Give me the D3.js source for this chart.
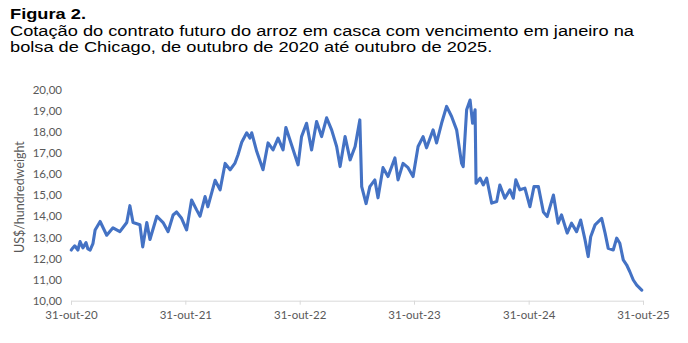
<!DOCTYPE html>
<html>
<head>
<meta charset="utf-8">
<script src="https://cdn.jsdelivr.net/npm/d3@7"></script>
<style>
  body { margin: 0; background: #fff; }
  svg { display: block; }
</style>
</head>
<body>
<div id="chart"></div>
<script>
// title lines
const titleBold = "Figura 2.";
const titleLines = [
  "Cotação do contrato futuro do arroz em casca com vencimento em janeiro na",
  "bolsa de Chicago, de outubro de 2020 até outubro de 2025."
];
const yLabel = "US$/hundredweight";

// x ticks (dates) and their labels
const tickDates = ["2020-10-31", "2021-10-31", "2022-10-31", "2023-10-31", "2024-10-31", "2025-10-31"];
const tickLabels = ["31-out-20", "31-out-21", "31-out-22", "31-out-23", "31-out-24", "31-out-25"];
const yTicks = [10, 11, 12, 13, 14, 15, 16, 17, 18, 19, 20];

// series
const dates = [
  "2020-11-01", "2020-11-03", "2020-11-12", "2020-11-22", "2020-11-29", "2020-12-08", "2020-12-18", "2020-12-24",
  "2020-12-31", "2021-01-09", "2021-01-16", "2021-02-01", "2021-02-22", "2021-03-14", "2021-04-05", "2021-04-27",
  "2021-05-07", "2021-05-17", "2021-06-08", "2021-06-17", "2021-06-30", "2021-07-10", "2021-08-01", "2021-08-21",
  "2021-09-06", "2021-09-22", "2021-10-03", "2021-10-19", "2021-11-04", "2021-11-20", "2021-12-06", "2021-12-17",
  "2022-01-02", "2022-01-11", "2022-02-03", "2022-02-19", "2022-03-07", "2022-03-23", "2022-04-07", "2022-04-17",
  "2022-04-29", "2022-05-15", "2022-05-25", "2022-05-31", "2022-06-16", "2022-07-06", "2022-07-22", "2022-08-07",
  "2022-08-23", "2022-09-08", "2022-09-17", "2022-10-05", "2022-10-26", "2022-11-06", "2022-11-22", "2022-12-08",
  "2022-12-24", "2023-01-09", "2023-01-25", "2023-02-10", "2023-02-26", "2023-03-09", "2023-03-25", "2023-04-10",
  "2023-04-26", "2023-05-11", "2023-05-17", "2023-05-31", "2023-06-12", "2023-06-28", "2023-07-08", "2023-07-24",
  "2023-08-09", "2023-08-31", "2023-09-10", "2023-09-26", "2023-10-12", "2023-10-28", "2023-11-13", "2023-11-29",
  "2023-12-10", "2023-12-31", "2024-01-11", "2024-01-27", "2024-02-12", "2024-02-28", "2024-03-15", "2024-03-31",
  "2024-04-05", "2024-04-16", "2024-04-27", "2024-05-05", "2024-05-13", "2024-05-16", "2024-05-29", "2024-06-08",
  "2024-06-19", "2024-07-05", "2024-07-21", "2024-07-31", "2024-08-16", "2024-09-01", "2024-09-12", "2024-09-20",
  "2024-10-03", "2024-10-19", "2024-11-04", "2024-11-17", "2024-12-01", "2024-12-17", "2024-12-29", "2025-01-18",
  "2025-02-02", "2025-02-13", "2025-03-03", "2025-03-17", "2025-04-02", "2025-04-15", "2025-04-29", "2025-05-09",
  "2025-05-17", "2025-05-31", "2025-06-21", "2025-07-02", "2025-07-12", "2025-07-28", "2025-08-08", "2025-08-18",
  "2025-08-29", "2025-09-09", "2025-09-19", "2025-09-30", "2025-10-11", "2025-10-27"
];
const prices = [
  12.40, 12.45, 12.60, 12.40, 12.80, 12.50, 12.75, 12.45,
  12.40, 12.70, 13.35, 13.75, 13.10, 13.45, 13.27, 13.70,
  14.50, 13.70, 13.60, 12.55, 13.70, 12.90, 14.00, 13.70,
  13.27, 14.06, 14.20, 13.90, 13.35, 14.77, 14.30, 14.00,
  14.93, 14.45, 15.70, 15.25, 16.50, 16.20, 16.50, 16.90,
  17.50, 17.95, 17.70, 17.95, 17.06, 16.20, 17.47, 17.14,
  17.70, 17.14, 18.20, 17.38, 16.43, 17.77, 18.40, 17.14,
  18.48, 17.77, 18.66, 18.09, 17.30, 16.35, 17.77, 16.67,
  17.30, 18.56, 15.40, 14.60, 15.40, 15.72, 14.87, 16.30,
  15.88, 16.76, 15.72, 16.50, 16.30, 15.88, 17.30, 17.77,
  17.24, 18.09, 17.47, 18.40, 19.20, 18.72, 18.09, 16.50,
  16.35, 19.04, 19.50, 18.40, 19.04, 15.56, 15.80, 15.48,
  15.80, 14.62, 14.70, 15.48, 14.85, 15.25, 14.85, 15.72,
  15.25, 15.33, 14.45, 15.40, 15.40, 14.20, 13.98, 15.00,
  13.67, 14.06, 13.20, 13.67, 13.27, 13.82, 12.88, 12.09,
  13.03, 13.59, 13.90, 13.20, 12.48, 12.40, 12.96, 12.72,
  11.93, 11.69, 11.37, 10.98, 10.74, 10.50
];

const width = 688, height = 343;
const margin = { top: 89.5, right: 45, bottom: 42.3, left: 71 };

const parse = d3.timeParse("%Y-%m-%d");
const data = dates.map((d, i) => ({ date: parse(d), value: prices[i] }));

const svg = d3.select("#chart").append("svg")
  .attr("width", width)
  .attr("height", height);

// title block (source text is drawn wide, so stretch it horizontally)
const title = svg.append("g")
  .attr("transform", "translate(10,0) scale(1.215,1)")
  .attr("font-family", "'Liberation Sans', Arial, sans-serif")
  .attr("fill", "#000");
title.append("text")
  .attr("x", 0).attr("y", 19)
  .attr("font-size", 15).attr("font-weight", "bold")
  .text(titleBold);
title.selectAll("text.line")
  .data(titleLines)
  .join("text")
  .attr("class", "line")
  .attr("x", 0)
  .attr("y", (d, i) => 36 + i * 16.5)
  .attr("font-size", 15)
  .text(d => d);

const x = d3.scaleTime()
  .domain([parse(tickDates[0]), parse(tickDates[tickDates.length - 1])])
  .range([margin.left, width - margin.right]);

const y = d3.scaleLinear()
  .domain([10, 20])
  .range([height - margin.bottom, margin.top]);

// x axis
const xAxis = svg.append("g")
  .attr("transform", `translate(0,${y(10)})`)
  .call(d3.axisBottom(x)
    .tickValues(tickDates.map(parse))
    .tickFormat((d, i) => tickLabels[i])
    .tickSize(4)
    .tickPadding(6));
xAxis.select(".domain").attr("stroke", "#d9d9d9");
xAxis.selectAll(".tick line").attr("stroke", "#d9d9d9");
xAxis.selectAll(".tick text")
  .attr("fill", "#595959")
  .attr("font-family", "Lato, 'Open Sans', sans-serif")
  .attr("font-size", 11.5);

// y axis, labels only
const yAxis = svg.append("g")
  .attr("transform", `translate(${margin.left},0)`)
  .call(d3.axisLeft(y)
    .tickValues(yTicks)
    .tickFormat(d => d3.format(".2f")(d).replace(".", ","))
    .tickSize(0)
    .tickPadding(9));
yAxis.select(".domain").remove();
yAxis.selectAll(".tick text")
  .attr("fill", "#595959")
  .attr("font-family", "Lato, 'Open Sans', sans-serif")
  .attr("font-size", 11.5);

svg.append("text")
  .attr("transform", `translate(24,${(y(10) + y(20)) / 2 + 2}) rotate(-90)`)
  .attr("text-anchor", "middle")
  .attr("fill", "#595959")
  .attr("font-family", "Lato, 'Open Sans', sans-serif")
  .attr("font-size", 12.5)
  .text(yLabel);

// price line
const line = d3.line()
  .x(d => x(d.date))
  .y(d => y(d.value));

svg.append("path")
  .datum(data)
  .attr("fill", "none")
  .attr("stroke", "#4472c4")
  .attr("stroke-width", 3.1)
  .attr("stroke-linejoin", "round")
  .attr("stroke-linecap", "round")
  .attr("d", line);
</script>
</body>
</html>
